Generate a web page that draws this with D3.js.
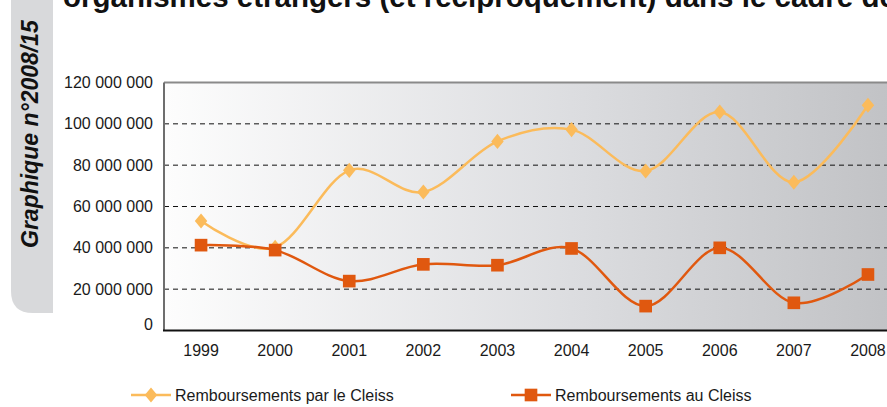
<!DOCTYPE html>
<html>
<head>
<meta charset="utf-8">
<script src="https://cdn.jsdelivr.net/npm/d3@7"></script>
<style>
  html, body { margin: 0; padding: 0; background: #fff; }
  svg { display: block; }
  text { font-family: "Liberation Sans", Arial, Helvetica, sans-serif; }
</style>
</head>
<body>
<svg id="chart" width="887" height="407"></svg>
<script>
// ---- data ----
const years = ["1999","2000","2001","2002","2003","2004","2005","2006","2007","2008"];
const parCleiss = [53000000, 40200000, 77500000, 67000000, 91500000, 97200000, 77200000, 105700000, 71700000, 109000000];
const auCleiss  = [41300000, 38900000, 23900000, 32000000, 31600000, 39700000, 11800000, 40000000, 13400000, 27100000];
const yTicks = [0, 20000000, 40000000, 60000000, 80000000, 100000000, 120000000];
const seriesNames = ["Remboursements par le Cleiss", "Remboursements au Cleiss"];
const titleText = "organismes étrangers (et réciproquement) dans le cadre de";
const sideText = "Graphique n°2008/15";

const colYellow = "#fbbb5b";
const colOrange = "#e0580f";

const svg = d3.select("#chart");

// ---- side tab ----
const tab = d3.path();
const tx0 = 11, tx1 = 53, ty1 = 313, r = 22;
tab.moveTo(tx0, 0);
tab.lineTo(tx1, 0);
tab.lineTo(tx1, ty1);
tab.lineTo(tx0 + r, ty1);
tab.quadraticCurveTo(tx0, ty1, tx0, ty1 - r);
tab.closePath();
svg.append("path").attr("d", tab.toString()).attr("fill", "#d8d9db");
svg.append("text")
  .attr("transform", "translate(38,248) rotate(-90)")
  .attr("font-size", 23).attr("font-weight", "bold").attr("font-style", "italic")
  .attr("fill", "#111")
  .text(sideText);

// ---- title (cut off at top, as in the source) ----
svg.append("text")
  .attr("x", 63).attr("y", 7)
  .attr("font-size", 29.5).attr("font-weight", "bold").attr("fill", "#111")
  .text(titleText);

// ---- scales ----
const plotLeft = 164, plotRight = 905, plotTop = 82.5, plotBottom = 330.5;
const x = d3.scaleBand().domain(years).range([plotLeft, plotRight]);
const y = d3.scaleLinear().domain([0, 120000000]).range([plotBottom, plotTop]);

// ---- background gradient ----
const defs = svg.append("defs");
const grad = defs.append("linearGradient").attr("id", "bg").attr("x1", "0").attr("x2", "1").attr("y1", "0").attr("y2", "0");
grad.append("stop").attr("offset", "0").attr("stop-color", "#fdfdfd");
grad.append("stop").attr("offset", "0.55").attr("stop-color", "#dcdde0");
grad.append("stop").attr("offset", "1").attr("stop-color", "#c0c1c4");
svg.append("rect")
  .attr("x", plotLeft).attr("y", plotTop)
  .attr("width", plotRight - plotLeft).attr("height", plotBottom - plotTop)
  .attr("fill", "url(#bg)");

// ---- gridlines ----
svg.append("g").selectAll("line")
  .data(yTicks.filter(d => d > 0 && d < 120000000))
  .join("line")
  .attr("x1", plotLeft).attr("x2", plotRight)
  .attr("y1", d => y(d)).attr("y2", d => y(d))
  .attr("stroke", "#111").attr("stroke-width", 1)
  .attr("stroke-dasharray", "5,4");

// ---- frame ----
svg.append("line").attr("x1", plotLeft).attr("x2", plotRight).attr("y1", plotTop).attr("y2", plotTop)
  .attr("stroke", "#8a8a8a").attr("stroke-width", 2);
svg.append("line").attr("x1", plotLeft).attr("x2", plotLeft).attr("y1", plotTop).attr("y2", plotBottom)
  .attr("stroke", "#6e6e6e").attr("stroke-width", 2);
svg.append("line").attr("x1", plotLeft - 1).attr("x2", plotRight).attr("y1", plotBottom).attr("y2", plotBottom)
  .attr("stroke", "#111").attr("stroke-width", 2);

// ---- axes ----
const fmt = d => d3.format(",")(d).replace(/,/g, " ");
const yAxis = d3.axisLeft(y).tickValues(yTicks).tickSize(0).tickPadding(11).tickFormat(fmt);
const gy = svg.append("g").attr("transform", `translate(${plotLeft},0)`).call(yAxis);
gy.select(".domain").remove();
gy.selectAll("text").attr("font-size", 16).attr("fill", "#1a1a1a")
  .attr("font-family", "'Liberation Sans', Arial, sans-serif")
  .attr("dy", d => d === 0 ? "-0.05em" : "0.32em");

const xAxis = d3.axisBottom(x).tickSize(0).tickPadding(14);
const gx = svg.append("g").attr("transform", `translate(0,${plotBottom})`).call(xAxis);
gx.select(".domain").remove();
gx.selectAll("text").attr("font-size", 16).attr("fill", "#1a1a1a")
  .attr("font-family", "'Liberation Sans', Arial, sans-serif");

// ---- lines ----
const cx = d => x(d) + x.bandwidth() / 2;
const line = d3.line().x(d => cx(d[0])).y(d => y(d[1])).curve(d3.curveCardinal.tension(0));
const dYellow = years.map((yr, i) => [yr, parCleiss[i]]);
const dOrange = years.map((yr, i) => [yr, auCleiss[i]]);

const diamond = d3.symbol().type(d3.symbolDiamond2).size(110);
const square = d3.symbol().type(d3.symbolSquare).size(160);

// yellow series
svg.append("path").attr("d", line(dYellow)).attr("fill", "none")
  .attr("stroke", colYellow).attr("stroke-width", 2.5);
svg.append("g").selectAll("path").data(dYellow).join("path")
  .attr("transform", d => `translate(${cx(d[0])},${y(d[1])}) scale(0.95,1.15)`)
  .attr("d", diamond).attr("fill", colYellow);

// orange series
svg.append("path").attr("d", line(dOrange)).attr("fill", "none")
  .attr("stroke", colOrange).attr("stroke-width", 2.5);
svg.append("g").selectAll("path").data(dOrange).join("path")
  .attr("transform", d => `translate(${cx(d[0])},${y(d[1])})`)
  .attr("d", square).attr("fill", colOrange);

// ---- legend ----
const legendItems = [
  { name: seriesNames[0], color: colYellow, sym: diamond, x0: 131, scale: "scale(0.95,1.15)" },
  { name: seriesNames[1], color: colOrange, sym: square, x0: 511, scale: "" }
];
const ly = 395;
const lg = svg.append("g").selectAll("g").data(legendItems).join("g");
lg.append("line").attr("x1", d => d.x0).attr("x2", d => d.x0 + 40)
  .attr("y1", ly).attr("y2", ly).attr("stroke", d => d.color).attr("stroke-width", 2.5);
lg.append("path").attr("transform", d => `translate(${d.x0 + 20},${ly}) ${d.scale}`)
  .attr("d", d => d.sym()).attr("fill", d => d.color);
lg.append("text").attr("x", d => d.x0 + 44).attr("y", ly).attr("dy", "0.35em")
  .attr("font-size", 16).attr("fill", "#1a1a1a")
  .text(d => d.name);
</script>
</body>
</html>
